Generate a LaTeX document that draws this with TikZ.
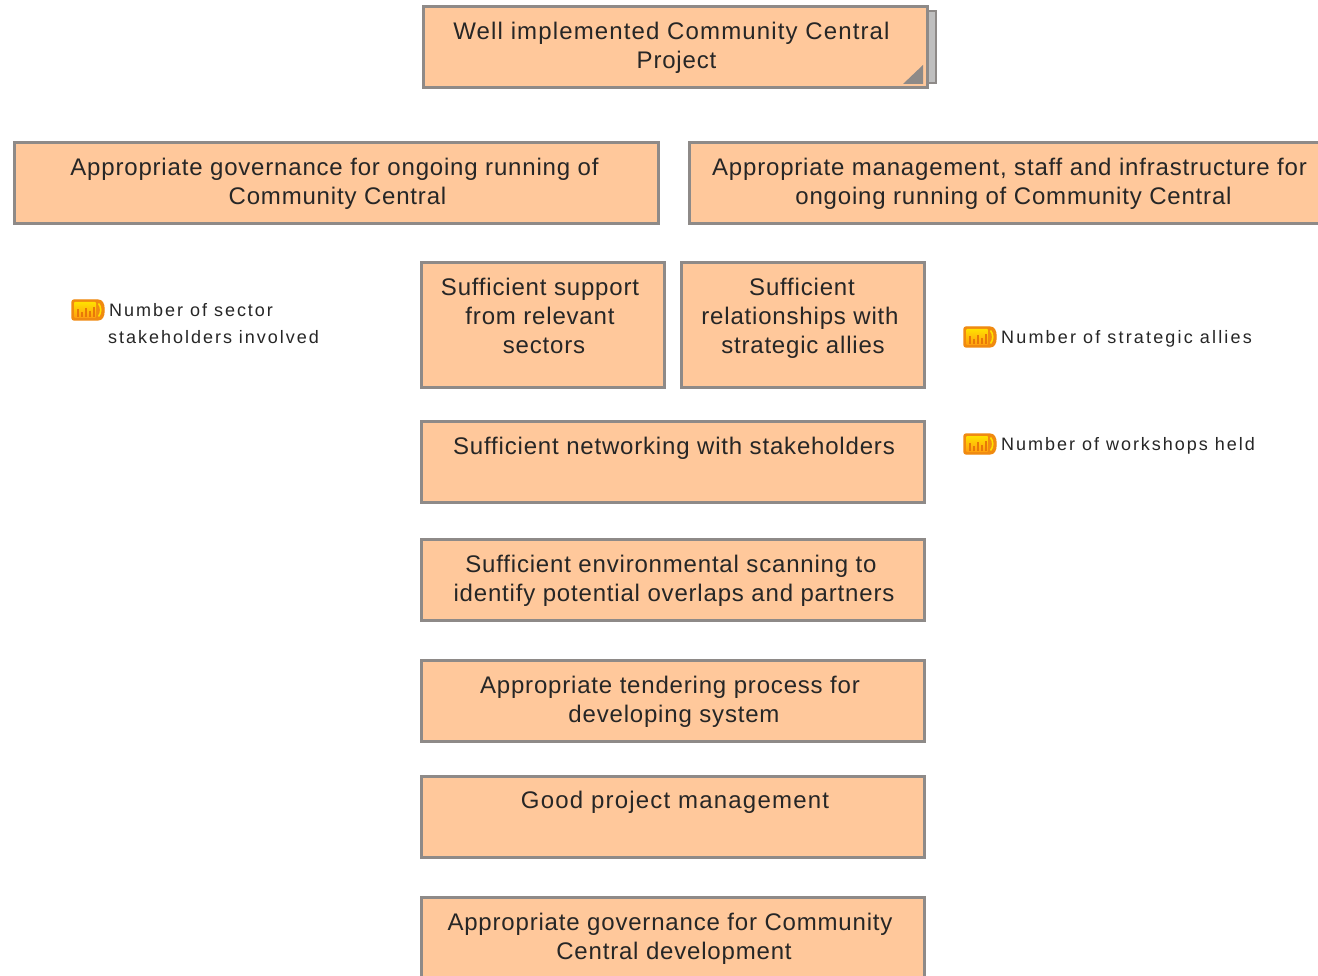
\documentclass[tikz,border=0pt]{standalone}
\usepackage{fontspec}
\setmainfont[LetterSpace=3.4]{Liberation Sans}
\newfontfamily\labelfont[LetterSpace=11]{Liberation Sans}
\definecolor{boxfill}{HTML}{FFC89B}
\definecolor{boxline}{HTML}{8E8A88}
\definecolor{inktext}{HTML}{262626}
\definecolor{meterline}{HTML}{F08A10}
\definecolor{metertop}{HTML}{FFE000}
\definecolor{meterlow}{HTML}{FF9E10}
\definecolor{meterbar}{HTML}{E87808}
\newcommand\nudge[3]{\mbox{\kern #1pt\raisebox{-#2pt}[\height][\depth]{#3}\kern -#1pt}}
\tikzset{
  goalbox/.style={draw=boxline,line width=3pt,fill=boxfill,text=inktext,inner sep=0pt,
    align=center,font=\fontsize{24}{29}\selectfont,anchor=center},
  ind/.style={anchor=west,inner sep=0pt,align=left,text=inktext,font=\labelfont\fontsize{18}{27}\selectfont},
  pics/meter/.style={code={
    \fill[rounded corners=2pt,fill=meterline,draw=meterline,line width=1.2pt]
      (0,0) -- (24,0) .. controls (30,0) and (32,4) .. (32,10) .. controls (32,16) and (30,20) .. (24,20) -- (0,20) -- cycle;
    \shade[top color=metertop,bottom color=meterlow,rounded corners=1pt] (2,2) rectangle (24,18);
    \draw[metertop,line width=1.6pt] (26.5,3.5) .. controls (29.5,7) and (29.5,13) .. (26.5,16.5);
    \foreach \xx/\hh in {6/9,10/6,14/10,18/7,22/11}
      \draw[meterbar,line width=1.4pt] (\xx,17) -- (\xx,17-\hh+1);
  }}
}
\begin{document}
\begin{tikzpicture}[x=1pt,y=-1pt]
\useasboundingbox (0,0) rectangle (1318,976);
\clip (0,0) rectangle (1318,976);
\fill[white] (0,0) rectangle (1318,976);
\draw[draw=boxline,line width=1.8pt,fill=black!25] (926,11) rectangle (936,83);
\node[goalbox,minimum width=504pt,minimum height=81pt] (top) at (675.5,47) {\nudge{-4}{1}{\addfontfeature{LetterSpace=4.7}Well implemented Community Central}\\ \nudge{1}{1}{Project}};
\fill[boxline] (923,65) -- (923,84) -- (903,84) -- cycle;
\node[goalbox,minimum width=644pt,minimum height=81pt] (gov) at (336.5,183) {\nudge{-2}{1}{Appropriate governance for ongoing running of}\\ \nudge{1}{1}{Community Central}};
\node[goalbox,minimum width=646pt,minimum height=81pt] (mgmt) at (1012.5,183) {\nudge{-3}{1}{Appropriate management, staff and infrastructure for}\\ \nudge{1}{1}{ongoing running of Community Central}};
\node[goalbox,minimum width=243pt,minimum height=125pt] (support) at (543,325) {\nudge{-3}{-9}{Sufficient support}\\ \nudge{-3}{-9}{from relevant}\\ \nudge{1}{-9}{sectors}};
\node[goalbox,minimum width=243pt,minimum height=125pt] (rel) at (803,325) {\nudge{-1}{-7}{Sufficient}\\ \nudge{-3}{-7}{relationships with}\\ \nudge{0}{-7}{strategic allies}};
\node[goalbox,minimum width=503pt,minimum height=81pt] (net) at (673,462) {\nudge{1}{-2}{Sufficient networking with stakeholders}\\ \mbox{}};
\node[goalbox,minimum width=503pt,minimum height=81pt] (scan) at (673,580) {\nudge{-2}{1}{Sufficient environmental scanning to}\\ \nudge{1}{1}{identify potential overlaps and partners}};
\node[goalbox,minimum width=503pt,minimum height=81pt] (tender) at (673,701) {\nudge{-3}{1}{Appropriate tendering process for}\\ \nudge{1}{1}{developing system}};
\node[goalbox,minimum width=503pt,minimum height=81pt] (pm) at (673,817) {\nudge{2}{-3}{\addfontfeature{LetterSpace=5}Good project management}\\ \mbox{}};
\node[goalbox,minimum width=503pt,minimum height=81pt] (devgov) at (673,938) {\nudge{-3}{1}{Appropriate governance for Community}\\ \nudge{1}{1}{Central development}};
\pic at (72,300) {meter};
\pic at (964,327) {meter};
\pic at (964,434) {meter};
\node[ind] (i1) at (108,323.5) {\kern1pt Number of sector\\ stakeholders involved};
\node[ind] (i2) at (1001,339) {\addfontfeature{LetterSpace=12}Number of strategic allies};
\node[ind] (i3) at (1001,446) {Number of workshops held};
\end{tikzpicture}
\end{document}
